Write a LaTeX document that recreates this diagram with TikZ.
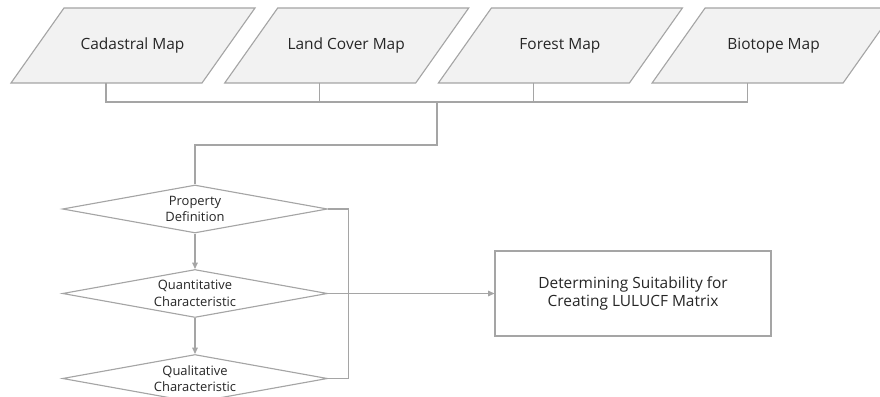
\documentclass[tikz,border=0pt]{standalone}
\usepackage{fontspec}
\setmainfont{Open Sans}
\usepackage{xcolor}
\usetikzlibrary{calc,arrows.meta,shapes.geometric}
\definecolor{linegray}{HTML}{A5A5A5}
\definecolor{mapfill}{HTML}{F2F2F2}
\definecolor{ink}{HTML}{262626}
\tikzset{
  mapbox/.style={draw=linegray, fill=mapfill, line width=0.8pt, line join=miter},
  maptext/.style={inner sep=0pt, text=ink, font=\fontsize{11}{12.8}\selectfont},
  decision/.style={diamond, draw=linegray, fill=white, line width=0.8pt,
    minimum width=66.25mm, minimum height=12mm, inner sep=0pt},
  dectext/.style={text=ink, align=center, font=\fontsize{9.2}{11.7}\selectfont},
  goal/.style={rectangle, draw=linegray, line width=0.8pt, minimum width=69mm,
    minimum height=21.25mm, align=center, text=ink,
    font=\fontsize{11}{12.8}\selectfont},
  wire/.style={draw=linegray, line width=0.8pt},
  flow/.style={wire, -{Triangle[length=4.5pt,width=4pt]}}
}
\begin{document}
\begin{tikzpicture}[x=0.25mm, y=-0.25mm]
  \clip (0,0) rectangle (880,397);

  % input maps (slanted boxes first, names on top)
  \foreach \x in {132.5,346.2,559.9,773.6}
    \draw[mapbox] (\x-121.5,83) -- ++(191,0) -- ++(53,-75) -- ++(-191,0) -- cycle;
  \node[maptext] (cad) at (132.5,45.5) {Cadastral Map};
  \node[maptext] (land) at (346.2,45.5) {Land Cover Map};
  \node[maptext] (forest) at (559.9,45.5) {Forest Map};
  \node[maptext] (bio) at (773.6,45.5) {Biotope Map};

  % middle of each lower edge
  \coordinate (cadB) at ($(cad)+(-26.5,37.5)$);
  \coordinate (landB) at ($(land)+(-26.5,37.5)$);
  \coordinate (forestB) at ($(forest)+(-26.5,37.5)$);
  \coordinate (bioB) at ($(bio)+(-26.5,37.5)$);
  \coordinate (bus) at ($(cadB)+(0,19)$);
  \coordinate (drop) at (437,102);

  % decision chain
  \node[decision, label={[dectext]center:{Property\\Definition}}] (prop) at (195,209) {};
  \node[decision, label={[dectext]center:{Quantitative\\Characteristic}}] (quan) at (195,293.5) {};
  \node[decision, label={[dectext]center:{Qualitative\\Characteristic}}] (qual) at (195,378.5) {};

  \node[goal] (goal) at (633,293.5) {Determining Suitability for\\Creating LULUCF Matrix};

  \draw[wire] (cadB) -- (bus) -| (bioB);
  \draw[wire] (landB) -- (landB |- bus);
  \draw[wire] (forestB) -- (forestB |- bus);
  \draw[wire] (drop) -- ++(0,43) -| (prop.north);

  \draw[flow] (prop.south) -- (quan.north);
  \draw[flow] (quan.south) -- (qual.north);
  \draw[flow] (quan.east) -- (goal.west);
  \draw[wire] (prop.east) -- ++(20,0) |- (qual.east);
\end{tikzpicture}
\end{document}
